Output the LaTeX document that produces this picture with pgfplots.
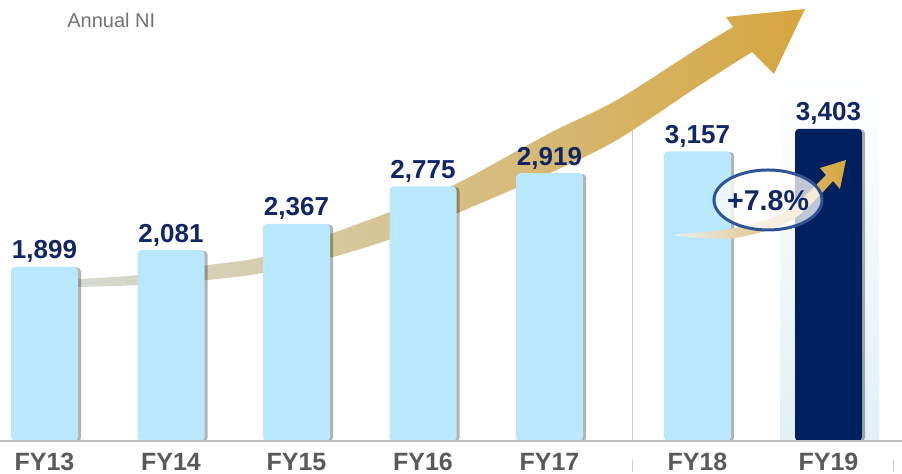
\documentclass[border=0pt]{standalone}
\usepackage{pgfplots}
\pgfplotsset{compat=1.18}
\usepackage{fontspec}
\setmainfont{Liberation Sans}
\usetikzlibrary{shadows}
\definecolor{lightbar}{RGB}{185,231,251}
\definecolor{navybar}{RGB}{0,32,96}
\definecolor{labnavy}{RGB}{16,38,102}
\definecolor{tickgray}{RGB}{89,89,89}
\definecolor{goldA}{RGB}{214,166,62}
\definecolor{oliveA}{RGB}{190,176,110}
\definecolor{grayA}{RGB}{214,218,210}
\definecolor{ringblue}{RGB}{47,84,150}
\definecolor{panel}{RGB}{226,240,244}
\tikzset{px/.style={x=0.5pt,y=-0.5pt,shift={(0pt,220.5pt)}}}
\begin{document}
\begin{tikzpicture}
\useasboundingbox (0pt,-16.5pt) rectangle (451pt,220.5pt);
% background decorations (pixel coordinates of the reference)
\begin{scope}[px]
  \shade[top color=white, bottom color=panel] (780,75) rectangle (879,441);
  \draw[gray!40, line width=0.5pt] (632,118) -- (632,441);
  \shade[left color=grayA, middle color=oliveA, right color=goldA]
    plot[smooth] coordinates {(78,279) (140,275) (213,264.5) (262,257) (333,233) (400,208) (460,182) (550,133) (617,100) (700,47) (733,27)}
    -- (726,17) -- (805,9) -- (774,74) -- (752,52)
    -- plot[smooth] coordinates {(752,52) (700,85) (617,140) (550,173) (460,212) (400,236) (333,257) (262,273) (213,279.5) (140,285) (78,287)}
    -- cycle;
\end{scope}
\begin{axis}[at={(0pt,0pt)}, anchor=south west, scale only axis,
  width=451pt, height=220.5pt,
  xmin=0, xmax=902, ymin=0, ymax=4807, clip=false,
  axis line style={draw=none}, ytick=\empty,
  xtick={44.5,171,296.5,423,549.5,697.5,828.5},
  xticklabels={FY13,FY14,FY15,FY16,FY17,FY18,FY19},
  major tick length=0pt,
  xticklabel style={anchor=base, yshift=-15pt, font=\fontsize{12.5}{14}\selectfont\bfseries, text=tickgray},
  nodes near coords={\pgfmathprintnumber[assume math mode=true,1000 sep={,},fixed,precision=0]{\pgfplotspointmeta}},
  nodes near coords style={anchor=base, yshift=4pt, font=\fontsize{13}{15}\selectfont\bfseries, text=labnavy},
]
\addplot[ybar, bar width=33.5pt, bar shift=0pt, fill=lightbar, draw=none, rounded corners=2pt,
  drop shadow={shadow xshift=1.5pt, shadow yshift=-0.3pt, fill=black, opacity=0.3}]
  coordinates {(44.5,1899) (171,2081) (296.5,2367) (423,2775) (549.5,2919) (697.5,3157)};
\addplot[ybar, bar width=33.5pt, bar shift=0pt, fill=navybar, draw=none, rounded corners=2pt,
  drop shadow={shadow xshift=1.5pt, shadow yshift=-0.3pt, fill=black, opacity=0.3}]
  coordinates {(828.5,3403)};
\end{axis}
\begin{scope}[px]
  \draw[gray!50, line width=1pt] (0,441) -- (902,441);
  \draw[gray!40, line width=0.5pt] (632,460) -- (632,472);
  \draw[gray!40, line width=0.5pt] (893,460) -- (893,472);
  \shade[left color=white!85!gray, middle color=white!70!goldA, right color=goldA]
    plot[smooth] coordinates {(676,234) (730,229) (785,212) (826,175)}
    -- (820,168) -- (846,160) -- (840,189) -- (833,181)
    -- plot[smooth] coordinates {(833,181) (792,220) (735,238) (676,236)} -- cycle;
  \draw[ringblue, line width=1.5pt, fill=white, fill opacity=0.75] (768,200) ellipse [x radius=54, y radius=30];
  \node[text=labnavy, font=\fontsize{14.3}{16}\selectfont\bfseries] at (768,201) {+7.8\%};
  \node[anchor=west, text=gray!90!black, font=\fontsize{10}{12}\selectfont, inner sep=0pt] at (67,20) {Annual NI};
\end{scope}
\end{tikzpicture}
\end{document}
